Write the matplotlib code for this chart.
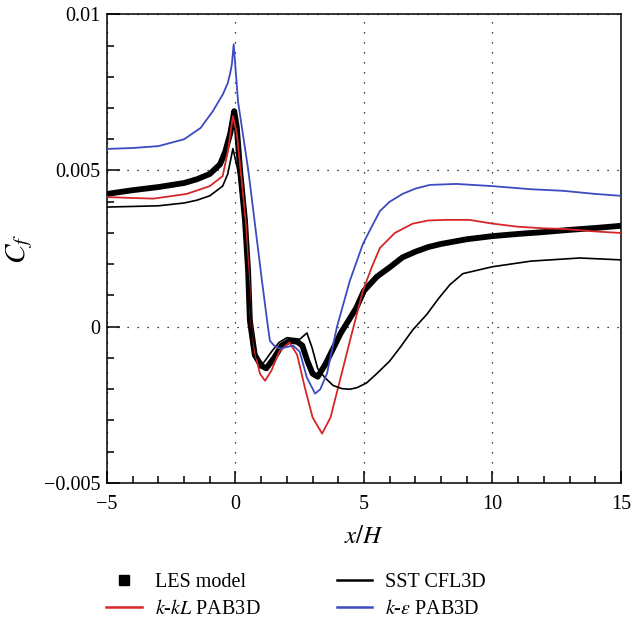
import matplotlib
matplotlib.use("Agg")
from matplotlib import pyplot as plt
from matplotlib.lines import Line2D
from matplotlib.ticker import FixedLocator, MultipleLocator

plt.rcParams["font.family"] = ["Liberation Serif", "DejaVu Serif"]
plt.rcParams["mathtext.fontset"] = "stix"

# LES model (thick black)
les_x = [-5, -4, -3, -2, -1.5, -1, -0.6, -0.4, -0.2, -0.05, 0.05, 0.18, 0.37,
         0.49, 0.56, 0.75, 1.0, 1.2, 1.5, 1.8, 2.1, 2.4, 2.6, 2.8, 3.0, 3.2,
         3.5, 3.8, 4.1, 4.4, 4.7, 5.0, 5.5, 6.0, 6.5, 7.0, 7.5, 8, 9, 10, 11,
         12, 13, 14, 15]
les_y = [0.00425, 0.00437, 0.00447, 0.0046, 0.00472, 0.00489, 0.0052, 0.0056,
         0.0062, 0.0069, 0.0064, 0.0050, 0.0034, 0.0018, 0.0002, -0.0009,
         -0.00125, -0.00133, -0.0010, -0.0006, -0.00045, -0.00048, -0.0006,
         -0.0011, -0.0015, -0.0016, -0.0012, -0.0007, -0.0002, 0.0002, 0.0006,
         0.00115, 0.0016, 0.0019, 0.00222, 0.0024, 0.00255, 0.00265, 0.0028,
         0.0029, 0.00297, 0.00303, 0.0031, 0.00316, 0.00323]

# SST CFL3D (thin black)
sst_x = [-5, -4, -3, -2, -1.5, -1, -0.5, -0.3, -0.1, 0.15, 0.35, 0.5, 0.64,
         0.84, 1.07, 1.4, 1.7, 2.0, 2.5, 2.78, 2.98, 3.2, 3.48, 3.8, 4.14,
         4.45, 4.73, 5.1, 5.5, 6.0, 6.4, 6.9, 7.45, 7.9, 8.35, 8.85, 10, 11.5,
         13.4, 15]
sst_y = [0.00383, 0.00385, 0.00387, 0.00396, 0.00405, 0.00419, 0.0045,
         0.00489, 0.0057, 0.0048, 0.0032, 0.0015, -0.00013, -0.001, -0.00118,
         -0.0008, -0.0005, -0.00035, -0.0004, -0.0002, -0.00067, -0.00134,
         -0.00163, -0.00188, -0.00198, -0.002, -0.00195, -0.0018, -0.0015,
         -0.0011, -0.00067, -0.0001, 0.0004, 0.0009, 0.00135, 0.0017, 0.00192,
         0.0021, 0.0022, 0.00214]

# k-kL PAB3D (red)
kkl_x = [-5, -4, -3.2, -1.9, -1, -0.5, -0.3, -0.1, 0.05, 0.2, 0.4, 0.52,
         0.6, 0.75, 0.95, 1.15, 1.4, 1.7, 2.1, 2.4, 2.7, 3.0, 3.37, 3.7, 4.07,
         4.5, 4.96, 5.3, 5.62, 6.2, 6.9, 7.5, 8.2, 9.1, 10, 11, 12, 12.75,
         14, 15]
kkl_y = [0.00415, 0.00412, 0.0041, 0.00425, 0.0045, 0.00482, 0.0056,
         0.00674, 0.0062, 0.0050, 0.0033, 0.0017, 0.0002, -0.0008, -0.0015,
         -0.00173, -0.0014, -0.0008, -0.0005, -0.0009, -0.00195, -0.0029,
         -0.00342, -0.0029, -0.0017, -0.0003, 0.00115, 0.0019, 0.00252,
         0.0030, 0.0033, 0.0034, 0.00342, 0.00342, 0.0033, 0.0032, 0.00315,
         0.00313, 0.00305, 0.003]

# k-epsilon PAB3D (blue)
ke_x = [-5, -4, -3, -2, -1.36, -0.88, -0.49, -0.3, -0.21, -0.14, -0.07, 0.1,
        0.5, 0.8, 1.03, 1.23, 1.34, 1.5, 1.73, 2.0, 2.24, 2.5, 2.78, 3.1,
        3.3, 3.56, 3.95, 4.45, 4.96, 5.3, 5.62, 6.0, 6.5, 7.0, 7.57, 8.6, 10,
        11.5, 12.75, 14, 15]
ke_y = [0.00569, 0.00572, 0.00578, 0.006, 0.00636, 0.0069, 0.00744, 0.0078,
        0.0081, 0.0084, 0.00904, 0.0072, 0.005, 0.003, 0.00147, 0.0002,
        -0.00045, -0.0006, -0.0007, -0.00065, -0.0006, -0.0008, -0.00163,
        -0.00214, -0.002, -0.0015, 0.0, 0.00147, 0.00265, 0.0032, 0.0037,
        0.004, 0.00425, 0.00442, 0.00454, 0.00457, 0.0045, 0.0044, 0.00435,
        0.00425, 0.00419]

y_ticks = [-0.005, 0, 0.005, 0.01]
y_tick_labels = ["\u22120.005", "0", "0.005", "0.01"]
x_ticks = [-5, 0, 5, 10, 15]
x_tick_labels = ["\u22125", "0", "5", "10", "15"]


def main():
    fig = plt.figure(figsize=(6.31, 6.2), dpi=100)
    ax = fig.add_axes([0.1696, 0.221, 0.8144, 0.756])

    ax.plot(les_x, les_y, color="black", lw=4.2, solid_capstyle="butt", zorder=3)
    ax.plot(kkl_x, kkl_y, color="#d62728", lw=1.3, zorder=4)
    ax.plot(sst_x, sst_y, color="black", lw=1.2, zorder=4)
    ax.plot(ke_x, ke_y, color="#3b4cc0", lw=1.3, zorder=4)

    ax.set_xlim(-5, 15)
    ax.set_ylim(-0.005, 0.01)

    ax.xaxis.set_major_locator(FixedLocator(x_ticks))
    ax.set_xticklabels(x_tick_labels)
    ax.xaxis.set_minor_locator(MultipleLocator(1))
    ax.yaxis.set_major_locator(FixedLocator(y_ticks))
    ax.set_yticklabels(y_tick_labels)
    ax.yaxis.set_minor_locator(MultipleLocator(0.001))

    ax.tick_params(which="both", direction="in", top=False, right=False,
                   labelsize=14.5, width=1.1)
    ax.tick_params(which="major", length=9)
    ax.tick_params(axis="x", which="major", pad=9)
    ax.tick_params(axis="y", which="major", pad=5)
    ax.tick_params(which="minor", length=5)
    for s in ax.spines.values():
        s.set_linewidth(1.1)

    ax.grid(True, which="major", color="black", linestyle=(0, (1, 7)), lw=0.9)

    ax.set_xlabel("$x/H$", fontsize=18, labelpad=8)
    ax.set_ylabel("$C_f$", fontsize=21, labelpad=6)

    handles = [
        Line2D([], [], color="black", marker="s", linestyle="none", markersize=7.5),
        Line2D([], [], color="#d62728", lw=1.8),
        Line2D([], [], color="black", lw=1.8),
        Line2D([], [], color="#3b4cc0", lw=1.8),
    ]
    labels = ["LES model", "$k$-$kL$ PAB3D", "SST CFL3D", "$k$-$\\varepsilon$ PAB3D"]
    fig.legend(handles, labels, loc="lower left", bbox_to_anchor=(0.14, -0.028),
               ncol=2, frameon=False, fontsize=14.5, handlelength=1.75,
               columnspacing=3.8, labelspacing=0.4, handletextpad=0.65)

    fig.savefig("out.png", dpi=100)


if __name__ == "__main__":
    main()
